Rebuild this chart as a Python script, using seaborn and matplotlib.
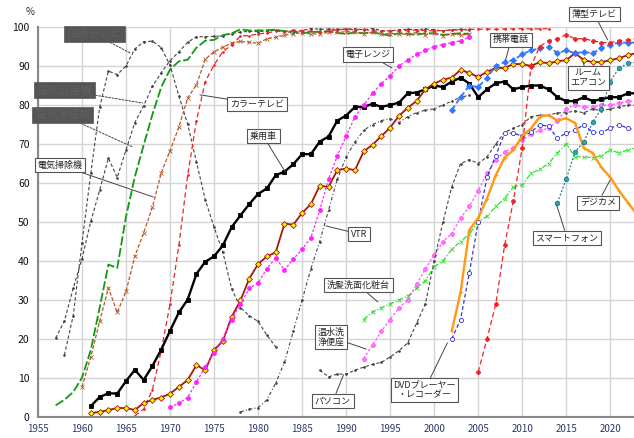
import numpy as np
import pandas as pd
import seaborn as sns
import matplotlib.pyplot as plt

sns.set_style("whitegrid")
plt.rcParams['font.family'] = ['Noto Sans CJK JP', 'DejaVu Sans']

# ---- data (penetration rate, %) ----
bw_tv_years = list(range(1958, 1983))
bw_tv = [15.9, 26.0, 44.7, 62.5, 79.4, 88.7, 87.8, 90.0, 94.4, 96.2, 96.4, 94.7, 90.2,
         82.3, 75.1, 65.4, 55.7, 48.7, 42.2, 32.9, 28.0, 26.0, 24.5, 21.0, 18.0]

washer_years = list(range(1957, 2005))
washer = [20.2, 24.6, 33.0, 40.6, 50.2, 58.1, 66.4, 61.4, 68.5, 75.5, 79.8, 84.8, 88.3,
          91.4, 93.6, 96.1, 97.5, 97.5, 97.6, 97.7, 98.3, 98.7, 98.9, 98.8, 99.0, 99.2,
          98.9, 98.5, 99.1, 99.6, 99.4, 99.5, 99.4, 99.5, 99.5, 99.3, 99.6, 99.1, 99.0,
          99.3, 99.4, 99.3, 99.5, 99.3, 99.0, 99.3, 99.4, 99.2]

fridge_years = list(range(1957, 2005))
fridge = [3.0, 4.4, 6.4, 10.1, 17.2, 28.0, 39.1, 38.2, 51.4, 61.6, 69.7, 77.6, 84.6,
          89.1, 91.2, 91.6, 94.7, 96.5, 96.7, 97.9, 98.4, 99.4, 99.1, 99.1, 99.2, 99.3,
          98.9, 98.9, 98.4, 98.7, 98.8, 98.9, 98.5, 98.2, 98.6, 98.4, 98.6, 98.2, 97.8,
          98.4, 98.2, 98.0, 98.4, 98.4, 98.0, 98.2, 98.4, 98.2]

vacuum_years = list(range(1960, 2005))
vacuum = [7.7, 15.4, 24.5, 33.1, 26.8, 32.2, 41.2, 47.2, 53.8, 62.6, 68.3, 74.3, 81.8,
          85.2, 91.7, 93.7, 94.8, 95.9, 96.3, 96.1, 95.8, 97.0, 97.4, 97.9, 98.3, 98.5,
          98.2, 98.3, 98.6, 98.6, 98.8, 98.7, 98.3, 98.6, 98.2, 98.3, 98.3, 98.1, 98.6,
          98.0, 98.4, 97.8, 98.2, 98.0, 98.1]

color_tv_years = list(range(1966, 2014))
color_tv = [0.3, 2.0, 7.0, 17.0, 29.0, 44.0, 62.0, 76.0, 86.0, 90.3, 93.7, 95.4, 97.7,
            97.8, 98.2, 98.5, 98.9, 98.8, 99.2, 99.1, 98.9, 98.7, 99.0, 99.3, 99.4, 99.3,
            99.4, 99.0, 98.9, 99.0, 99.0, 99.1, 99.2, 99.1, 99.0, 99.1, 99.2, 99.3, 99.4,
            99.4, 99.5, 99.4, 99.5, 99.5, 99.6, 99.5, 99.5, 99.6]

car_years = list(range(1961, 2024))
car = [2.8, 5.1, 6.1, 6.0, 9.2, 12.1, 9.5, 13.1, 17.3, 22.1, 26.8, 30.1, 36.7, 39.8,
       41.2, 44.0, 48.7, 51.7, 54.6, 57.2, 58.6, 62.0, 62.9, 64.8, 67.4, 67.4, 70.6,
       71.9, 76.0, 77.3, 79.5, 79.5, 80.3, 79.5, 80.0, 80.6, 83.0, 83.2, 84.0, 85.0,
       84.6, 86.0, 87.0, 85.5, 82.0, 84.0, 85.6, 86.0, 84.0, 84.6, 85.0, 85.0, 84.0,
       82.0, 81.0, 81.0, 82.0, 81.0, 81.5, 82.0, 82.0, 83.0, 83.0]

aircon_years = list(range(1961, 2024))
aircon = [1.0, 1.3, 1.8, 2.3, 2.3, 1.8, 3.6, 4.4, 5.0, 6.0, 7.7, 9.5, 13.3, 12.0, 17.2,
          19.5, 25.7, 29.9, 35.5, 39.2, 41.2, 42.2, 49.6, 49.3, 52.3, 54.6, 59.3, 59.0,
          63.3, 63.7, 63.3, 68.1, 69.8, 72.0, 74.2, 77.2, 79.3, 81.0, 84.0, 85.5, 86.5,
          87.0, 89.0, 88.2, 87.2, 88.5, 89.5, 89.5, 90.5, 90.5, 90.0, 91.0, 90.7, 91.2,
          91.5, 93.3, 91.5, 91.0, 91.0, 91.5, 92.0, 92.8, 93.3]

micro_years = list(range(1970, 2005))
micro = [2.5, 3.5, 5.0, 9.0, 12.8, 16.4, 20.0, 25.0, 29.0, 33.0, 34.4, 38.0, 40.8, 37.7,
         40.5, 43.0, 46.0, 53.0, 61.0, 67.0, 72.0, 77.0, 80.0, 83.0, 85.5, 87.5, 90.0,
         91.5, 93.0, 94.0, 95.0, 95.5, 96.0, 96.5, 97.4]

vtr_years = list(range(1978, 2005))
vtr = [1.3, 2.0, 2.4, 4.4, 8.7, 14.0, 22.0, 30.0, 38.0, 45.0, 53.0, 61.0, 66.7, 70.5,
       73.5, 75.0, 76.0, 76.5, 75.5, 77.0, 78.0, 78.7, 79.0, 80.0, 81.0, 82.0, 82.5]

washbasin_years = list(range(1992, 2024))
washbasin = [25.0, 27.0, 28.0, 29.0, 30.0, 31.0, 33.0, 35.0, 38.5, 40.0, 43.0, 45.0,
             47.0, 50.0, 51.5, 54.0, 56.0, 59.0, 59.5, 62.5, 63.5, 65.0, 67.7, 70.0,
             66.7, 66.7, 66.5, 67.0, 68.5, 67.7, 68.5, 69.0]

toilet_years = list(range(1992, 2024))
toilet = [15.0, 18.5, 22.0, 25.0, 28.0, 30.0, 34.0, 38.0, 41.5, 45.0, 47.0, 51.0, 54.0,
          58.0, 62.5, 66.0, 68.0, 69.0, 71.0, 72.5, 73.5, 74.0, 76.0, 79.0, 80.0, 79.5,
          79.5, 80.0, 80.0, 80.5, 81.0, 81.0]

pc_years = list(range(1987, 2024))
pc = [12.0, 10.3, 11.0, 11.0, 12.0, 12.8, 13.5, 14.0, 15.4, 17.0, 19.0, 24.0, 29.0,
      40.0, 50.0, 59.0, 65.0, 66.0, 65.0, 66.7, 70.0, 73.0, 74.0, 75.0, 77.0, 77.4,
      77.4, 78.0, 78.0, 78.5, 78.0, 79.0, 78.5, 79.0, 79.5, 80.0, 80.0]

mobile_years = list(range(2002, 2024))
mobile = [78.7, 82.0, 85.0, 84.6, 87.0, 90.0, 91.0, 91.5, 93.0, 94.0, 94.5, 95.0, 93.3,
          94.0, 93.3, 93.6, 93.3, 94.5, 95.5, 96.0, 96.0, 96.0]

dvd_years = list(range(2002, 2024))
dvd = [20.0, 25.0, 37.0, 50.0, 61.5, 67.0, 72.8, 72.8, 72.0, 73.0, 75.0, 74.5, 71.5,
       72.8, 73.5, 75.0, 73.0, 73.0, 74.0, 75.0, 74.0, 73.6]

digicam_years = list(range(2002, 2024))
digicam = [22.0, 32.0, 48.0, 51.0, 56.0, 62.0, 66.5, 68.5, 72.0, 74.0, 77.0, 77.4, 76.0,
           76.6, 75.4, 69.0, 67.7, 64.0, 61.5, 58.0, 55.0, 52.0]

flat_tv_years = list(range(2005, 2024))
flat_tv = [11.5, 20.0, 29.0, 44.0, 55.5, 69.0, 90.0, 95.0, 96.5, 97.0, 98.0, 97.0, 97.0,
           96.5, 96.0, 96.0, 96.5, 96.7, 97.0]

smart_years = list(range(2014, 2024))
smart = [55.0, 61.0, 68.0, 70.5, 75.6, 79.0, 86.0, 89.5, 90.7, 91.0]

# name, years, values, color, linestyle, linewidth, marker, marker face, marker size
series = [
    ("白黒テレビ", bw_tv_years, bw_tv, "#444444", (0, (3, 2)), 0.8, ".", "#444444", 2.5),
    ("電気洗濯機", washer_years, washer, "#444444", (0, (3, 2)), 0.8, ".", "#444444", 2.5),
    ("電気冷蔵庫", fridge_years, fridge, "#119911", (0, (5, 1.5)), 1.3, None, None, 0),
    ("電気掃除機", vacuum_years, vacuum, "#b05a28", (0, (3, 1.5)), 0.9, "x", "#b05a28", 3),
    ("カラーテレビ", color_tv_years, color_tv, "#ee2222", (0, (4, 2.5)), 0.9, ".", "#ee2222", 2.5),
    ("乗用車", car_years, car, "#000000", "-", 1.7, "s", "#000000", 2.5),
    ("ルームエアコン", aircon_years, aircon, "#a01a10", "-", 1.3, "D", "#ffee00", 3),
    ("電子レンジ", micro_years, micro, "#ff22ff", (0, (2, 1.5)), 0.9, "o", "#ff22ff", 2.8),
    ("VTR", vtr_years, vtr, "#444444", (0, (3, 2, 1, 2)), 0.8, ".", "#444444", 2.5),
    ("洗髪洗面化粧台", washbasin_years, washbasin, "#33dd33", (0, (4, 1.5, 1, 1.5)), 0.9, "x", "#33dd33", 3),
    ("温水洗浄便座", toilet_years, toilet, "#ff55ff", (0, (2, 1.5)), 0.9, "P", "#ff88ff", 3),
    ("パソコン", pc_years, pc, "#444444", (0, (3, 2)), 0.8, ".", "#444444", 2.5),
    ("携帯電話", mobile_years, mobile, "#3377ff", (0, (3, 1.5)), 1.3, "D", "#3377ff", 3),
    ("DVD", dvd_years, dvd, "#3333dd", (0, (3, 2)), 0.9, "o", "white", 3),
    ("デジカメ", digicam_years, digicam, "#ff9911", "-", 1.7, "+", "#ff9911", 3),
    ("薄型テレビ", flat_tv_years, flat_tv, "#ee2222", (0, (4, 2.5)), 0.9, "P", "#ee2222", 3),
    ("スマートフォン", smart_years, smart, "#1a7a8a", (0, (1.5, 1.5)), 0.9, "o", "#30a8a8", 3.2),
]

fig = plt.figure(figsize=(6.34, 4.38), dpi=100)
ax = fig.add_axes([38 / 634, 1 - 417 / 438, 1 - 38 / 634, (417 - 27) / 438])

for name, yrs, vals, col, ls, lw, mk, mfc, ms in series:
    df = pd.DataFrame({"year": yrs, "rate": vals})
    sns.lineplot(data=df, x="year", y="rate", ax=ax, color=col, linestyle=ls,
                 linewidth=lw, marker=mk, markersize=ms, markerfacecolor=mfc,
                 markeredgecolor=col, markeredgewidth=0.6, clip_on=False)

ax.set_xlim(1955, 2022.7)
ax.set_ylim(0, 100)
ax.set_xticks(np.arange(1955, 2021, 5))
ax.set_yticks(np.arange(0, 101, 10))
ax.set_xlabel("")
ax.set_ylabel("")
ax.grid(color="#d4d4d4", linewidth=1.0)
ax.set_axisbelow(True)
for side in ["top", "right"]:
    ax.spines[side].set_visible(False)
for side in ["left", "bottom"]:
    ax.spines[side].set_color("#888888")
    ax.spines[side].set_linewidth(1.5)
ax.tick_params(axis="x", labelsize=7, colors="#2a3a6a", length=0, pad=5)
ax.tick_params(axis="y", labelsize=7.5, colors="#111111", length=0, pad=6)
fig.text(0.047, 0.972, "%", fontsize=7, ha="center", va="center")

# label boxes: text, box centre (year, %), leader target (year, %)
labels = [
    ("カラーテレビ", (1979.9, 80.3), (1973.4, 82.6)),
    ("乗用車", (1980.6, 72.0), (1983.1, 62.8)),
    ("電子レンジ", (1992.5, 93.0), (1995.2, 89.5)),
    ("VTR", (1991.5, 46.9), (1987.7, 49.0)),
    ("洗髪洗面化粧台", (1991.4, 33.8), (1993.6, 29.5)),
    ("温水洗\n浄便座", (1988.3, 20.5), (1992.3, 17.4)),
    ("パソコン", (1988.5, 4.1), (1989.7, 10.8)),
    ("DVDプレーヤー\n・レコーダー", (1998.9, 6.9), (2001.5, 19.0)),
    ("スマートフォン", (2015.1, 45.9), (2013.9, 54.4)),
    ("デジカメ", (2018.6, 54.9), (2020.0, 60.8)),
    ("ルーム\nエアコン", (2017.5, 86.9), (2016.9, 91.0)),
    ("携帯電話", (2008.75, 96.7), (2008.1, 91.5)),
    ("薄型テレビ", (2018.2, 103.3), (2019.7, 96.7)),
    ("電気掃除機", (1957.5, 64.6), (1968.1, 56.4)),
]
for txt, pos, tgt in labels:
    ax.annotate(txt, xy=tgt, xytext=pos, fontsize=6.5, ha="center", va="center",
                linespacing=1.1, annotation_clip=False, zorder=10,
                bbox=dict(boxstyle="square,pad=0.3", fc="white", ec="#555555", lw=0.8),
                arrowprops=dict(arrowstyle="-", color="#444444", lw=0.7,
                                shrinkA=0, shrinkB=0))

# dark label boxes at the upper left
dark_labels = [
    ("白黒テレビ", (1961.4, 98.2), (1965.5, 93.3)),
    ("電気洗濯機", (1958.0, 83.8), (1966.9, 80.5)),
    ("電気冷蔵庫", (1957.8, 77.4), (1965.8, 69.2)),
]
for txt, pos, tgt in dark_labels:
    ax.annotate(txt, xy=tgt, xytext=pos, fontsize=8, ha="center", va="center",
                color="#5f5f5f", annotation_clip=False, zorder=10,
                bbox=dict(boxstyle="square,pad=0.25", fc="#555555", ec="#555555", lw=0.5),
                arrowprops=dict(arrowstyle="-", color="#444444", lw=0.7,
                                linestyle=(0, (2, 1.5)), shrinkA=0, shrinkB=0))

fig.savefig("out.png", dpi=100)
